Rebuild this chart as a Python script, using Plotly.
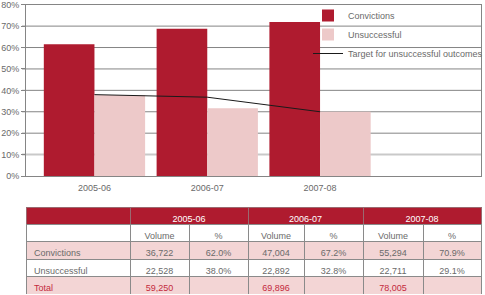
import plotly.graph_objects as go

categories = ["2005-06", "2006-07", "2007-08"]
convictions_pct = [61.5, 68.8, 71.9]
unsuccessful_pct = [37.8, 31.6, 30.0]
target_pct = [38.0, 36.8, 30.0]

tick_vals = [0, 10, 20, 30, 40, 50, 60, 70, 80]
tick_text = ["0%", "10%", "20%", "30%", "40%", "50%", "60%", "70%", "80%"]

row_labels = ["Convictions", "Unsuccessful", "Total"]
vol_0506 = ["36,722", "22,528", "59,250"]
pct_0506 = ["62.0%", "38.0%", ""]
vol_0607 = ["47,004", "22,892", "69,896"]
pct_0607 = ["67.2%", "32.8%", ""]
vol_0708 = ["55,294", "22,711", "78,005"]
pct_0708 = ["70.9%", "29.1%", ""]
sub_headers = ["", "Volume", "%", "Volume", "%", "Volume", "%"]

W, H = 485, 295
DARK = "#AF1B2F"
PINK = "#EDC9C9"
ROWPINK = "#F3D5D5"
GRAY_TXT = "#6a6a6a"
GRID = "#858585"
FONT = "Liberation Sans, Arial, sans-serif"
FS = 9

def px_x(p):
    return p / W

def px_y(p):
    return (H - p) / H

fig = go.Figure()

fig.add_trace(go.Bar(x=categories, y=convictions_pct, name="Convictions",
                     marker=dict(color=DARK, line=dict(width=0)),
                     legendgroup="a", xaxis="x", yaxis="y"))
fig.add_trace(go.Bar(x=categories, y=unsuccessful_pct, name="Unsuccessful",
                     marker=dict(color=PINK, line=dict(width=0)),
                     legendgroup="b", xaxis="x", yaxis="y"))
fig.add_trace(go.Scatter(x=categories, y=target_pct, name="Target for unsuccessful outcomes",
                         mode="lines", line=dict(color="#1a1a1a", width=1),
                         legendgroup="c", xaxis="x", yaxis="y"))

# Year header table
fig.add_trace(go.Table(
    domain=dict(x=[px_x(26), px_x(481)], y=[px_y(224), px_y(207)]),
    columnwidth=[104, 118, 115, 118],
    header=dict(values=[""] + categories, fill=dict(color=DARK),
                line=dict(color="#9a6a70", width=1),
                font=dict(color="white", size=FS, family=FONT),
                align="center", height=17),
    cells=dict(values=[[], [], [], []], height=0.1),
))

cols = [row_labels, vol_0506, pct_0506, vol_0607, pct_0607, vol_0708, pct_0708]
row_fill = [ROWPINK, "white", ROWPINK]
row_font = [GRAY_TXT, GRAY_TXT, "#C42A3D"]
fig.add_trace(go.Table(
    domain=dict(x=[px_x(26), px_x(481)], y=[px_y(294), px_y(224)]),
    columnwidth=[104, 59, 59, 56, 59, 60, 58],
    header=dict(values=sub_headers, fill=dict(color="white"),
                line=dict(color="#8a8a8a", width=1),
                font=dict(color=GRAY_TXT, size=FS, family=FONT),
                align="center", height=17.5),
    cells=dict(values=cols,
               fill=dict(color=[row_fill] * 7),
               line=dict(color="#8a8a8a", width=1),
               font=dict(color=[row_font] * 7, size=FS, family=FONT),
               align=["left"] + ["center"] * 6, height=17.5),
))

# horizontal gridlines (10% line is lighter in the original)
for v in tick_vals[1:-1]:
    light = (v == 10)
    fig.add_shape(type="line", xref="paper", yref="y",
                  x0=px_x(22), x1=px_x(481), y0=v, y1=v,
                  line=dict(color="#c9c9c9" if light else GRID, width=2 if light else 1),
                  layer="below")

fig.update_layout(
    width=W, height=H,
    margin=dict(l=0, r=0, t=0, b=0, autoexpand=False),
    paper_bgcolor="white", plot_bgcolor="white",
    barmode="group", bargap=0.102, bargroupgap=0,
    font=dict(family=FONT, size=FS, color=GRAY_TXT),
    xaxis=dict(type="category", domain=[px_x(26), px_x(481)], range=[-0.607, 3.427],
               showgrid=False, showline=True, linecolor=GRID, linewidth=1, mirror=True,
               ticks="", ticklabelstandoff=3, tickfont=dict(size=FS, color=GRAY_TXT),
               automargin=False, fixedrange=True),
    yaxis=dict(domain=[px_y(176), px_y(4.7)], range=[0, 80],
               tickvals=tick_vals, ticktext=tick_text,
               showgrid=False,
               showline=True, linecolor=GRID, linewidth=1, mirror=True,
               ticks="outside", ticklen=4, tickcolor=GRID,
               ticklabelstandoff=0, ticklabeloverflow="allow",
               tickfont=dict(size=FS, color=GRAY_TXT),
               zeroline=False, automargin=False, fixedrange=True),
    showlegend=True,
    legend=dict(x=px_x(308), y=px_y(1), xanchor="left", yanchor="top",
                bgcolor="rgba(0,0,0,0)", borderwidth=0,
                font=dict(size=FS, color=GRAY_TXT, family=FONT),
                tracegroupgap=4, traceorder="normal"),
)

fig.write_html("out.html")
